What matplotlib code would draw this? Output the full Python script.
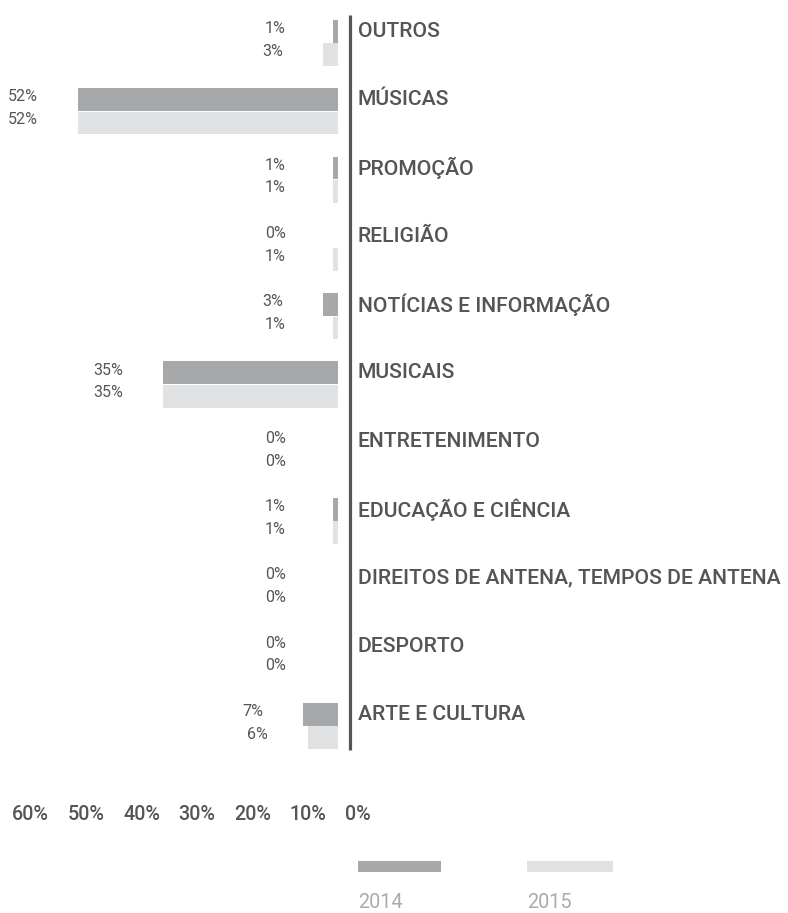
import matplotlib
matplotlib.use("Agg")
import matplotlib.pyplot as plt
from matplotlib.patches import Rectangle
import numpy as np

plt.rcParams['font.family'] = ['Roboto', 'DejaVu Sans']

categories = ["OUTROS", "MÚSICAS", "PROMOÇÃO", "RELIGIÃO", "NOTÍCIAS E INFORMAÇÃO",
              "MUSICAIS", "ENTRETENIMENTO", "EDUCAÇÃO E CIÊNCIA",
              "DIREITOS DE ANTENA, TEMPOS DE ANTENA", "DESPORTO", "ARTE E CULTURA"]
values_2014 = [1, 52, 1, 0, 3, 35, 0, 1, 0, 0, 7]
values_2015 = [3, 52, 1, 1, 1, 35, 0, 1, 0, 0, 6]
series_names = ["2014", "2015"]
axis_ticks = [60, 50, 40, 30, 20, 10, 0]

C2014 = "#a7a8aa"
C2015 = "#e1e2e4"
TXT = "#555555"

W, H = 788, 913
fig = plt.figure(figsize=(W / 100, H / 100), dpi=100)

# main axes: full width, top 760 px
ax = fig.add_axes([0, 1 - 760 / H, 1, 760 / H])
ax.set_xlim(67.6, -90)
ax.set_ylim(10.498, -0.6296)
ax.axis('off')

y = np.arange(len(categories))
bh = 0.332
off = 0.171
ax.barh(y - off, values_2014, height=bh, left=0, color=C2014, linewidth=0)
ax.barh(y + off, values_2015, height=bh, left=0, color=C2015, linewidth=0)

# vertical axis line
ax.vlines(-2.4, -0.41, len(categories) - 1 + 0.35, color=TXT, linewidth=2.3)

for i, cat in enumerate(categories):
    ax.text(-4, i - off, cat, ha='left', va='center', fontsize=15.2,
            fontweight='medium', color=TXT)
    for v, dy in ((values_2014[i], -off - 0.04), (values_2015[i], off - 0.05)):
        xl = max(v + 8, 10.4)
        ax.text(xl, i + dy, f"{v}%", ha='right', va='center', fontsize=11.5, color=TXT)

# bottom scale labels
ax2 = fig.add_axes([12 / W, 1 - 805 / H, 333 / W, 0.0001])
ax2.set_xlim(60, 0)
ax2.set_xticks(axis_ticks)
ax2.set_xticklabels([f"{t}%" for t in axis_ticks], ha='left', fontsize=14.2,
                    fontweight='medium', color=TXT)
ax2.tick_params(axis='x', length=0, pad=0)
ax2.set_yticks([])
for s in ax2.spines.values():
    s.set_visible(False)
ax2.patch.set_alpha(0)

# legend
for name, col, x0, w in ((series_names[0], C2014, 358, 83), (series_names[1], C2015, 527, 86)):
    fig.patches.append(Rectangle((x0 / W, 1 - 872 / H), w / W, 11 / H,
                                 transform=fig.transFigure, color=col, linewidth=0))
    fig.text(x0 / W, 1 - 902 / H, name, ha='left', va='center', fontsize=14.3,
             color="#aaaaaa")

fig.savefig("out.png", dpi=100)
